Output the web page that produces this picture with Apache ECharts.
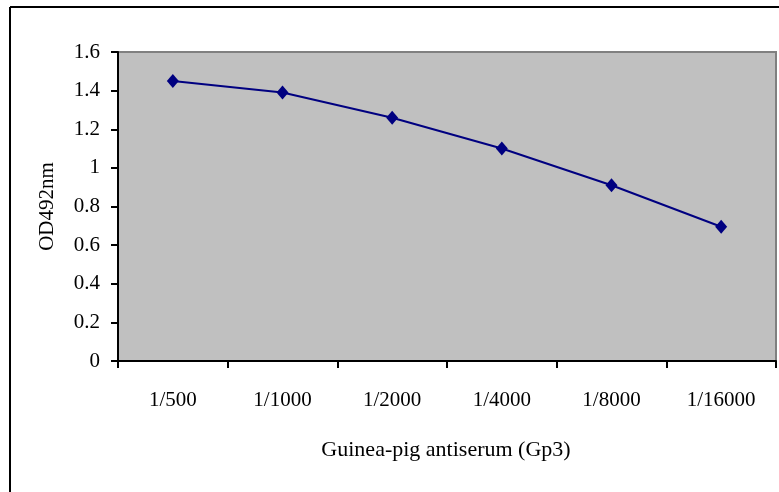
<!DOCTYPE html>
<html>
<head>
<meta charset="utf-8">
<script src="https://cdn.jsdelivr.net/npm/echarts@6/dist/echarts.min.js"></script>
<style>html,body{margin:0;padding:0;background:#fff;}#c{width:779px;height:492px;}</style>
</head>
<body>
<div id="c"></div>
<script>
var categories = ['1/500', '1/1000', '1/2000', '1/4000', '1/8000', '1/16000'];
var odValues = [1.45, 1.39, 1.26, 1.10, 0.91, 0.695];
var yMin = 0, yMax = 1.6, yStep = 0.2;
var xTitle = 'Guinea-pig antiserum (Gp3)';
var yTitle = 'OD492nm';

var chart = echarts.init(document.getElementById('c'), null, {renderer: 'canvas'});
var font = "'Liberation Serif', 'Times New Roman', serif";
chart.setOption({
  animation: false,
  backgroundColor: '#ffffff',
  graphic: [
    {type: 'line', shape: {x1: 10, y1: 7, x2: 779, y2: 7}, style: {stroke: '#000', lineWidth: 2}},
    {type: 'line', shape: {x1: 10, y1: 7, x2: 10, y2: 492}, style: {stroke: '#000', lineWidth: 2}},
    {type: 'text', x: 446, y: 450, style: {text: xTitle, font: '22px ' + font, fill: '#000', align: 'center', verticalAlign: 'middle'}}
  ],
  grid: {
    left: 118, top: 52, right: 3, bottom: 131,
    show: true, backgroundColor: '#c0c0c0', borderColor: '#808080', borderWidth: 2
  },
  xAxis: {
    type: 'category',
    data: categories,
    boundaryGap: true,
    axisLine: {lineStyle: {color: '#000', width: 2}},
    axisTick: {show: true, length: 7, inside: false, lineStyle: {color: '#000', width: 2}, alignWithLabel: false},
    axisLabel: {color: '#000', fontFamily: font, fontSize: 21, margin: 29},
    splitLine: {show: false}
  },
  yAxis: {
    type: 'value',
    min: yMin, max: yMax, interval: yStep,
    name: yTitle,
    nameLocation: 'middle',
    nameGap: 60,
    nameTextStyle: {color: '#000', fontFamily: font, fontSize: 21},
    axisLine: {show: true, lineStyle: {color: '#000', width: 2}},
    axisTick: {show: true, length: 7, lineStyle: {color: '#000', width: 2}},
    axisLabel: {color: '#000', fontFamily: font, fontSize: 21, margin: 18,
      formatter: function (v) { return String(Math.round(v * 10) / 10); }},
    splitLine: {show: false}
  },
  series: [{
    type: 'line',
    data: odValues,
    symbol: 'diamond',
    symbolSize: [12, 14],
    itemStyle: {color: '#000080'},
    lineStyle: {color: '#000080', width: 2},
    z: 5
  }]
});
</script>
</body>
</html>
